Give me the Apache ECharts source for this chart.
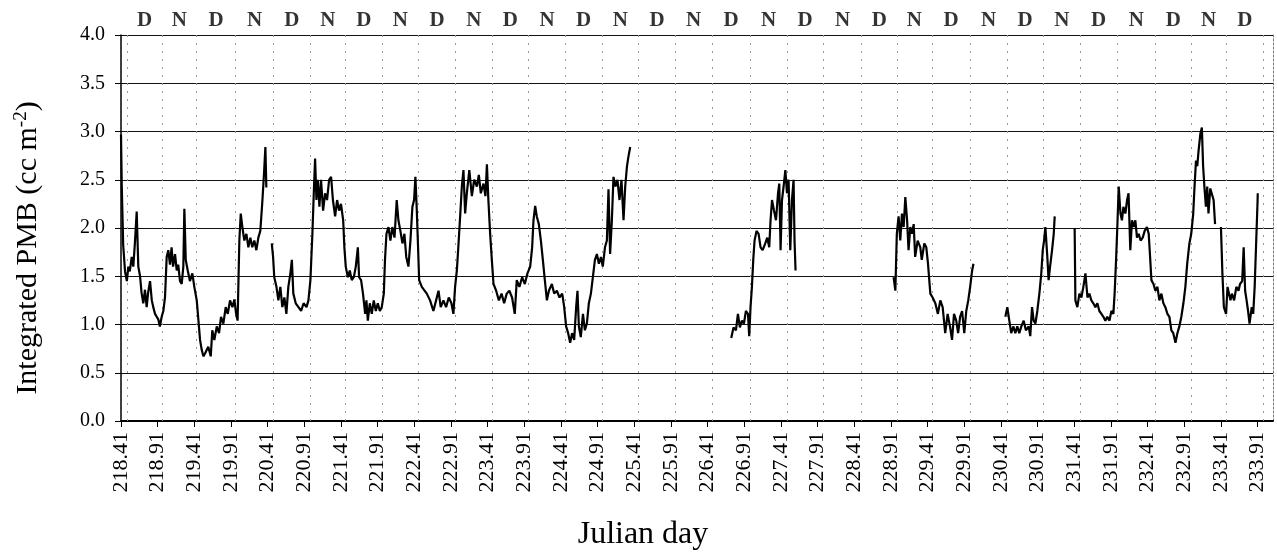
<!DOCTYPE html>
<html>
<head>
<meta charset="utf-8">
<script src="https://cdn.jsdelivr.net/npm/echarts@6/dist/echarts.min.js"></script>
<style>
  html, body { margin: 0; padding: 0; background: #fff; }
  #chart { width: 1277px; height: 560px; }
</style>
</head>
<body>
<div id="chart"></div>
<script>
// Integrated PMB (cc m^-2) against Julian day; each array is one continuous record.
const SEG_218 = [
  [218.41,2.97],[218.42,2.45],[218.44,1.82],[218.465,1.55],[218.49,1.45],[218.51,1.6],[218.53,1.55],
  [218.556,1.7],[218.578,1.6],[218.60,1.85],[218.624,2.17],[218.646,1.6],[218.67,1.5],[218.69,1.33],
  [218.714,1.22],[218.737,1.36],[218.76,1.18],[218.78,1.33],[218.806,1.45],[218.83,1.25],[218.85,1.18],
  [218.874,1.11],[218.897,1.08],[218.92,1.05],[218.94,0.98],[218.965,1.08],[218.987,1.14],[219.01,1.28],
  [219.033,1.7],[219.055,1.77],[219.078,1.62],[219.10,1.8],[219.12,1.6],[219.147,1.73],[219.17,1.56],
  [219.19,1.62],[219.215,1.45],[219.238,1.42],[219.26,1.6],[219.274,2.2],[219.293,1.67],[219.32,1.56],
  [219.35,1.45],[219.383,1.53],[219.41,1.39],[219.443,1.25],[219.465,1.05],[219.488,0.84],[219.51,0.74],
  [219.533,0.67],[219.556,0.7],[219.6,0.77],[219.634,0.67],[219.655,0.94],[219.683,0.84],[219.716,0.98],
  [219.747,0.91],[219.774,1.08],[219.806,1.01],[219.838,1.18],[219.866,1.11],[219.897,1.25],[219.93,1.18],
  [219.956,1.26],[219.98,1.11],[220.0,1.04],[220.024,1.87],[220.043,2.15],[220.065,2.01],[220.092,1.87],
  [220.12,1.94],[220.147,1.8],[220.174,1.9],[220.2,1.8],[220.228,1.87],[220.256,1.77],[220.283,1.9],
  [220.31,1.97],[220.338,2.28],[220.36,2.56],[220.379,2.84],[220.392,2.42]
];
const SEG_220 = [
  [220.466,1.84],[220.484,1.7],[220.5,1.49],[220.53,1.39],[220.556,1.25],[220.583,1.39],[220.61,1.18],
  [220.638,1.28],[220.665,1.11],[220.692,1.39],[220.72,1.53],[220.74,1.67],[220.76,1.32],[220.793,1.22],
  [220.83,1.18],[220.866,1.14],[220.9,1.22],[220.94,1.18],[220.966,1.25],[220.993,1.46],[221.02,1.94],
  [221.039,2.36],[221.057,2.72],[221.075,2.29],[221.094,2.5],[221.116,2.22],[221.138,2.5],[221.166,2.18],
  [221.193,2.36],[221.22,2.29],[221.248,2.5],[221.275,2.53],[221.3,2.29],[221.33,2.12],[221.357,2.29],
  [221.384,2.18],[221.41,2.25],[221.44,2.08],[221.456,1.8],[221.475,1.6],[221.503,1.49],[221.53,1.56],
  [221.557,1.46],[221.585,1.49],[221.612,1.6],[221.64,1.8],[221.657,1.49],[221.684,1.46],[221.71,1.32],
  [221.74,1.11],[221.757,1.25],[221.776,1.04],[221.803,1.22],[221.83,1.11],[221.857,1.25],[221.885,1.14],
  [221.912,1.22],[221.94,1.14],[221.966,1.18],[221.994,1.32],[222.01,1.67],[222.03,1.94],[222.057,2.01],
  [222.084,1.87],[222.11,2.01],[222.14,1.9],[222.17,2.29],[222.193,2.08],[222.22,1.97],[222.248,1.84],
  [222.275,1.94],[222.3,1.7],[222.33,1.6],[222.357,1.87],[222.384,2.22],[222.407,2.29],[222.425,2.53],
  [222.444,2.18],[222.458,1.87],[222.476,1.46],[222.512,1.39],[222.534,1.39],[222.58,1.32],[222.625,1.25],
  [222.67,1.14],[222.707,1.25],[222.74,1.35],[222.77,1.18],[222.807,1.25],[222.843,1.18],[222.88,1.28],
  [222.916,1.22],[222.943,1.11],[222.966,1.39],[222.99,1.56],[223.01,1.8],[223.035,2.12],[223.058,2.43],
  [223.08,2.6],[223.103,2.15],[223.126,2.36],[223.16,2.6],[223.195,2.33],[223.226,2.5],[223.263,2.43],
  [223.29,2.55],[223.317,2.36],[223.353,2.46],[223.38,2.33],[223.4,2.66],[223.42,2.29],[223.444,1.94],
  [223.467,1.67],[223.49,1.42],[223.526,1.35],[223.563,1.25],[223.6,1.32],[223.635,1.22],[223.67,1.32],
  [223.706,1.35],[223.743,1.28],[223.78,1.11],[223.807,1.46],[223.843,1.39],[223.88,1.49],[223.917,1.42],
  [223.953,1.53],[223.99,1.6],[224.017,1.8],[224.035,2.08],[224.058,2.23],[224.08,2.12],[224.108,2.04],
  [224.136,1.87],[224.163,1.67],[224.19,1.46],[224.218,1.25],[224.245,1.35],[224.286,1.42],[224.317,1.32],
  [224.354,1.35],[224.39,1.28],[224.427,1.32],[224.454,1.18],[224.48,0.98],[224.508,0.91],[224.535,0.81],
  [224.562,0.91],[224.59,0.84],[224.617,1.18],[224.635,1.35],[224.654,0.98],[224.68,0.87],[224.71,1.11],
  [224.736,0.94],[224.763,1.01],[224.79,1.22],[224.818,1.32],[224.845,1.49],[224.873,1.67],[224.9,1.73],
  [224.927,1.63],[224.955,1.7],[224.98,1.6],[225.01,1.8],[225.036,1.87],[225.058,2.4],[225.08,1.73],
  [225.104,2.08],[225.126,2.53],[225.153,2.43],[225.18,2.5],[225.208,2.29],[225.235,2.5],[225.263,2.08],
  [225.286,2.43],[225.31,2.64],[225.33,2.74],[225.354,2.84]
];
const SEG_226 = [
  [226.732,0.86],[226.763,0.97],[226.796,0.94],[226.823,1.11],[226.85,0.97],[226.878,1.04],[226.905,1.01],
  [226.932,1.14],[226.96,1.11],[226.977,0.88],[226.995,1.18],[227.014,1.39],[227.032,1.67],[227.05,1.87],
  [227.077,1.97],[227.105,1.94],[227.132,1.8],[227.16,1.77],[227.196,1.84],[227.223,1.9],[227.25,1.8],
  [227.268,2.08],[227.288,2.29],[227.315,2.18],[227.342,2.08],[227.37,2.36],[227.387,2.46],[227.405,1.77],
  [227.424,2.29],[227.446,2.43],[227.47,2.6],[227.492,2.36],[227.514,2.5],[227.537,1.77],[227.56,2.29],
  [227.582,2.5],[227.595,1.87],[227.609,1.56]
];
const SEG_228 = [
  [228.946,1.49],[228.97,1.35],[228.99,1.94],[229.014,2.12],[229.037,1.87],[229.06,2.15],[229.083,2.01],
  [229.106,2.32],[229.13,2.08],[229.15,1.77],[229.174,2.01],[229.197,1.94],[229.22,2.04],[229.24,1.7],
  [229.274,1.87],[229.31,1.8],[229.33,1.67],[229.365,1.84],[229.392,1.8],[229.415,1.63],[229.447,1.32],
  [229.478,1.28],[229.515,1.22],[229.55,1.11],[229.583,1.25],[229.615,1.18],[229.65,0.91],[229.683,1.11],
  [229.715,0.98],[229.743,0.84],[229.77,1.11],[229.8,1.04],[229.826,0.91],[229.853,1.08],[229.88,1.14],
  [229.91,0.91],[229.937,1.14],[229.964,1.25],[229.99,1.39],[230.017,1.56],[230.035,1.63]
];
const SEG_230 = [
  [230.47,1.08],[230.497,1.18],[230.524,1.04],[230.55,0.91],[230.58,0.98],[230.606,0.91],[230.633,0.98],
  [230.66,0.91],[230.688,0.98],[230.72,1.04],[230.75,0.94],[230.788,0.98],[230.81,0.88],[230.834,1.18],
  [230.856,1.04],[230.88,1.01],[230.906,1.14],[230.934,1.32],[230.96,1.53],[230.98,1.77],[230.998,1.87],
  [231.016,2.01],[231.04,1.73],[231.06,1.46],[231.08,1.6],[231.107,1.77],[231.13,1.94],[231.143,2.12]
];
const SEG_231 = [
  [231.415,2.0],[231.425,1.25],[231.452,1.18],[231.48,1.32],[231.507,1.28],[231.534,1.39],[231.562,1.53],
  [231.59,1.28],[231.616,1.32],[231.643,1.25],[231.67,1.22],[231.698,1.18],[231.725,1.22],[231.752,1.14],
  [231.78,1.11],[231.807,1.08],[231.834,1.04],[231.86,1.08],[231.89,1.04],[231.916,1.14],[231.943,1.11],
  [231.96,1.32],[231.98,1.67],[231.997,2.01],[232.016,2.43],[232.04,2.15],[232.06,2.08],[232.08,2.22],
  [232.107,2.15],[232.13,2.29],[232.15,2.36],[232.174,1.77],[232.197,2.08],[232.22,2.01],[232.243,2.08],
  [232.265,1.9],[232.288,1.94],[232.315,1.87],[232.343,1.9],[232.37,1.97],[232.4,2.01],[232.425,1.94],
  [232.444,1.7],[232.462,1.46],[232.49,1.42],[232.516,1.35],[232.544,1.39],[232.57,1.25],[232.598,1.32],
  [232.625,1.22],[232.652,1.18],[232.68,1.11],[232.707,1.08],[232.734,0.94],[232.76,0.91],[232.79,0.81],
  [232.816,0.91],[232.843,0.98],[232.87,1.08],[232.898,1.22],[232.925,1.39],[232.95,1.63],[232.98,1.84],
  [233.005,1.94],[233.032,2.15],[233.05,2.43],[233.07,2.7],[233.087,2.64],[233.105,2.8],[233.13,2.98],
  [233.15,3.04],[233.167,2.64],[233.186,2.41],[233.205,2.22],[233.223,2.43],[233.24,2.15],[233.265,2.41],
  [233.288,2.43],[233.31,2.29],[233.33,2.04]
];
const SEG_233 = [
  [233.41,2.01],[233.43,1.53],[233.45,1.18],[233.48,1.11],[233.5,1.39],[233.54,1.25],[233.56,1.32],
  [233.59,1.25],[233.62,1.39],[233.65,1.35],[233.67,1.42],[233.7,1.45],[233.72,1.8],[233.74,1.35],
  [233.76,1.25],[233.78,1.14],[233.8,1.01],[233.83,1.18],[233.85,1.11],[233.87,1.39],[233.89,1.84],
  [233.91,2.29],[233.912,2.36]
];
const SEGMENTS = [SEG_218, SEG_220, SEG_226, SEG_228, SEG_230, SEG_231, SEG_233];

// Day / night boundaries (Julian day) and the period labels between them.
const BOUNDARIES = [
  218.49, 218.97, 219.44, 219.97, 220.49, 220.99, 221.47, 221.97, 222.47, 222.97, 223.47,
  223.97, 224.47, 224.97, 225.47, 225.97, 226.47, 226.99, 227.49, 227.99, 228.51, 228.99,
  229.47, 229.99, 230.49, 230.99, 231.49, 231.99, 232.52, 233.00, 233.48, 233.99
];
const PERIODS = ['D', 'N'];

// Axis settings: first labelled day, last visible day, tick step, value range.
const DAY_START = 218.41;
const DAY_END = 234.12;
const DAY_STEP = 0.5;
const PMB_MAX = 4.0;
const PMB_STEP = 0.5;

const SERIF = "'Liberation Serif', 'Times New Roman', serif";

// x is plotted as days since DAY_START so the ticks land on 218.41, 218.91, ...
const toX = d => +(d - DAY_START).toFixed(4);

const lineData = [];
SEGMENTS.forEach((seg, i) => {
  if (i > 0) lineData.push([null, null]);
  seg.forEach(p => lineData.push([toX(p[0]), p[1]]));
});

const periodData = [];
for (let i = 0; i < BOUNDARIES.length - 1; i++) {
  periodData.push({
    value: [toX((BOUNDARIES[i] + BOUNDARIES[i + 1]) / 2), PMB_MAX],
    name: PERIODS[i % 2]
  });
}

const chart = echarts.init(document.getElementById('chart'), null, { renderer: 'canvas' });

chart.setOption({
  animation: false,
  backgroundColor: '#ffffff',
  grid: { left: 121, right: 4, top: 35, bottom: 139, containLabel: false },
  xAxis: {
    type: 'value',
    min: 0,
    max: toX(DAY_END),
    interval: DAY_STEP,
    name: 'Julian day',
    nameLocation: 'middle',
    nameGap: 98,
    nameTextStyle: { fontFamily: SERIF, fontSize: 32, color: '#000', padding: [0, 108, 0, 0] },
    axisLine: { show: true, onZero: false, lineStyle: { color: '#000', width: 2 } },
    axisTick: { show: true, length: 6, lineStyle: { color: '#000', width: 1 } },
    axisLabel: {
      rotate: 90,
      margin: 11,
      fontFamily: SERIF,
      fontSize: 22,
      color: '#000',
      showMaxLabel: false,
      formatter: v => {
        const k = v / DAY_STEP;
        return Math.abs(k - Math.round(k)) < 1e-6 ? (DAY_START + v).toFixed(2) : '';
      }
    },
    splitLine: { show: false }
  },
  yAxis: [{
    type: 'value',
    min: 0,
    max: PMB_MAX,
    interval: PMB_STEP,
    name: 'Integrated PMB (cc m{sup|-2})',
    nameLocation: 'middle',
    nameGap: 76,
    nameTextStyle: {
      fontFamily: SERIF, fontSize: 30, color: '#000', padding: [0, 40, 0, 0],
      rich: { sup: { fontFamily: SERIF, fontSize: 19, color: '#000', padding: [0, 0, 14, 0] } }
    },
    axisLine: { show: true, lineStyle: { color: '#000', width: 1.5 } },
    axisTick: { show: true, length: 6, lineStyle: { color: '#000' } },
    axisLabel: {
      fontFamily: SERIF, fontSize: 20, color: '#000', margin: 16,
      formatter: v => v.toFixed(1)
    },
    splitLine: { show: true, lineStyle: { color: '#111', width: 1.2 } }
  }, {
    type: 'value',
    position: 'right',
    min: 0,
    max: PMB_MAX,
    interval: PMB_STEP,
    axisLine: { show: true, lineStyle: { color: '#777', width: 1, type: [2, 2] } },
    axisTick: { show: false },
    axisLabel: { show: false },
    splitLine: { show: false }
  }],
  series: [
    {
      name: 'Integrated PMB',
      type: 'line',
      data: lineData,
      showSymbol: false,
      connectNulls: false,
      lineStyle: { color: '#000', width: 2.2 },
      z: 5,
      markLine: {
        silent: true,
        symbol: 'none',
        label: { show: false },
        lineStyle: { color: '#9a9a9a', width: 1, type: [2, 6] },
        data: BOUNDARIES.map(b => ({ xAxis: toX(b) }))
      }
    },
    {
      name: 'Period',
      type: 'scatter',
      data: periodData,
      symbolSize: 0,
      clip: false,
      silent: true,
      label: {
        show: true,
        position: 'top',
        distance: 4,
        formatter: p => p.name,
        fontFamily: SERIF,
        fontSize: 21,
        fontWeight: 'bold',
        color: '#000'
      }
    }
  ]
});
</script>
</body>
</html>
